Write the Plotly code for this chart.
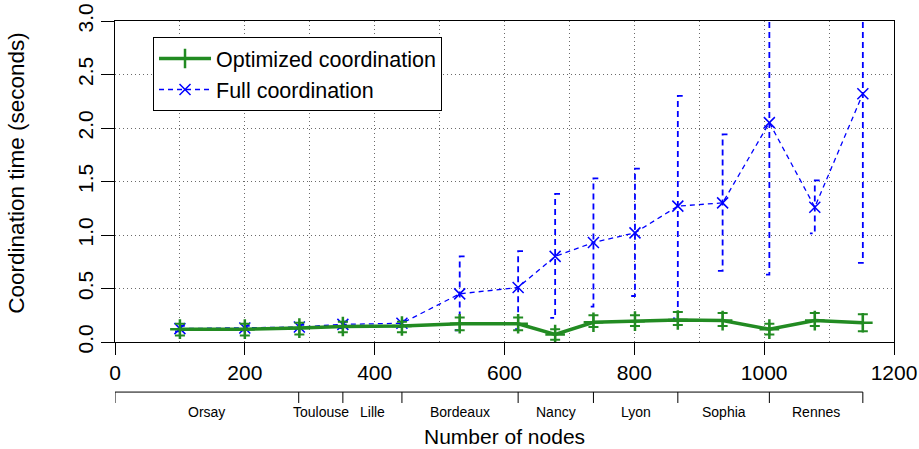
import plotly.graph_objects as go

# ---- data ----
nodes = [100, 200, 284, 351, 442, 531, 621, 678, 737, 801, 867, 936, 1008, 1078, 1152]

opt_mean = [0.12, 0.12, 0.13, 0.145, 0.15, 0.17, 0.17, 0.07, 0.185, 0.195, 0.205, 0.20, 0.12, 0.20, 0.18]
opt_low = [0.06, 0.06, 0.07, 0.09, 0.09, 0.11, 0.11, 0.02, 0.14, 0.15, 0.16, 0.15, 0.07, 0.15, 0.10]
opt_high = [0.17, 0.17, 0.18, 0.19, 0.19, 0.23, 0.23, 0.12, 0.25, 0.25, 0.28, 0.27, 0.17, 0.27, 0.26]

full_mean = [0.125, 0.13, 0.14, 0.165, 0.175, 0.45, 0.51, 0.80, 0.93, 1.02, 1.27, 1.30, 2.05, 1.26, 2.32]
full_low = [0.10, 0.11, 0.12, 0.13, 0.14, 0.11, 0.12, 0.225, 0.33, 0.43, 0.22, 0.665, 0.63, 1.015, 0.74]
full_high = [0.15, 0.15, 0.16, 0.19, 0.20, 0.80, 0.85, 1.385, 1.53, 1.62, 2.30, 1.94, 3.6, 1.51, 3.6]

site_names = ["Orsay", "Toulouse", "Lille", "Bordeaux", "Nancy", "Lyon", "Sophia", "Rennes"]
site_bounds = [0, 283, 351, 442, 621, 737, 867, 1008, 1152]

x_ticks = [0, 200, 400, 600, 800, 1000, 1200]
y_ticks = [0.0, 0.5, 1.0, 1.5, 2.0, 2.5, 3.0]

# ---- styles ----
GREEN = "#228B22"
BLUE = "#0000FF"
FONT = "Liberation Sans, Arial, sans-serif"
CAP = 7.5  # half-cap length for dashed error bars (data units)
GRIDCOL = "#6a6a6a"
GRIDDASH = "1px,3px"

fig = go.Figure()

# dashed blue error bars
ex, ey = [], []
for x, lo, hi in zip(nodes, full_low, full_high):
    ex += [x + CAP, x, x, x - CAP, None]
    ey += [hi, hi, lo, lo, None]
fig.add_trace(go.Scatter(x=ex, y=ey, mode="lines", showlegend=False, hoverinfo="skip",
                         line=dict(color=BLUE, width=1.8, dash="6px,4px")))

fig.add_trace(go.Scatter(x=nodes, y=full_mean, mode="lines+markers", name="Full coordination",
                         line=dict(color=BLUE, width=1.3, dash="5px,4px"),
                         marker=dict(symbol="x-thin", size=11, line=dict(color=BLUE, width=1.5))))

fig.add_trace(go.Scatter(
    x=nodes, y=opt_mean, mode="lines+markers", name="Optimized coordination",
    line=dict(color=GREEN, width=3.5),
    marker=dict(symbol="cross-thin", size=14, line=dict(color=GREEN, width=2.5)),
    error_y=dict(type="data", symmetric=False,
                 array=[h - m for h, m in zip(opt_high, opt_mean)],
                 arrayminus=[m - l for m, l in zip(opt_mean, opt_low)],
                 color=GREEN, thickness=2, width=5)))

# site bracket axis below the x axis
Y_LINE = -0.156
Y_TICK = -0.190
Y_LAB = -0.218
fig.add_shape(type="line", xref="x", yref="paper", x0=site_bounds[0], x1=site_bounds[-1],
              y0=Y_LINE, y1=Y_LINE, line=dict(color="black", width=1))
for b in site_bounds:
    fig.add_shape(type="line", xref="x", yref="paper", x0=b, x1=b, y0=Y_LINE, y1=Y_TICK,
                  line=dict(color="black", width=1))
for name, a, b in zip(site_names, site_bounds[:-1], site_bounds[1:]):
    fig.add_annotation(x=(a + b) / 2, y=Y_LAB, xref="x", yref="paper", text=name,
                       xanchor="center", yanchor="middle",
                       showarrow=False, font=dict(size=14, color="black", family=FONT))

# axis titles
fig.add_annotation(x=0.5, y=-0.293, xref="paper", yref="paper", text="Number of nodes",
                   xanchor="center", yanchor="middle",
                   showarrow=False, font=dict(size=21, color="black", family=FONT))
fig.add_annotation(x=-0.126, y=0.527, xref="paper", yref="paper", text="Coordination time (seconds)",
                   xanchor="center", yanchor="middle",
                   textangle=-90, showarrow=False, font=dict(size=22.5, color="black", family=FONT))

grid = dict(showgrid=True, gridcolor=GRIDCOL, griddash=GRIDDASH, gridwidth=1)

fig.update_layout(
    width=919, height=449,
    margin=dict(l=115, r=25, t=21, b=107, autoexpand=False),
    paper_bgcolor="white", plot_bgcolor="white",
    font=dict(family=FONT, color="black", size=21),
    showlegend=True,
    legend=dict(x=0.0488, y=0.95, xanchor="left", yanchor="top", traceorder="reversed",
                bgcolor="white", bordercolor="black", borderwidth=1, itemwidth=52,
                font=dict(size=21.5, family=FONT, color="black")),
    xaxis=dict(range=[0, 1200], tickvals=x_ticks, ticks="outside", ticklen=12, tickcolor="black",
               showline=True, mirror=True, linecolor="black", linewidth=1, zeroline=False,
               automargin=False,
               tickfont=dict(size=21), minor=dict(dtick=100, showgrid=True, gridcolor=GRIDCOL,
                                                  griddash=GRIDDASH, gridwidth=1),
               **grid),
    yaxis=dict(range=[0, 3], tickvals=y_ticks, ticktext=[f"{v:.1f}" for v in y_ticks],
               ticks="outside", ticklen=13, tickcolor="black", tickangle=-90,
               showline=True, mirror=True, linecolor="black", linewidth=1, zeroline=False,
               automargin=False, tickfont=dict(size=21), **grid),
)

fig.write_html("out.html", config={"displayModeBar": False},
               post_script="document.body.style.margin='0';document.body.style.overflow='hidden';")
